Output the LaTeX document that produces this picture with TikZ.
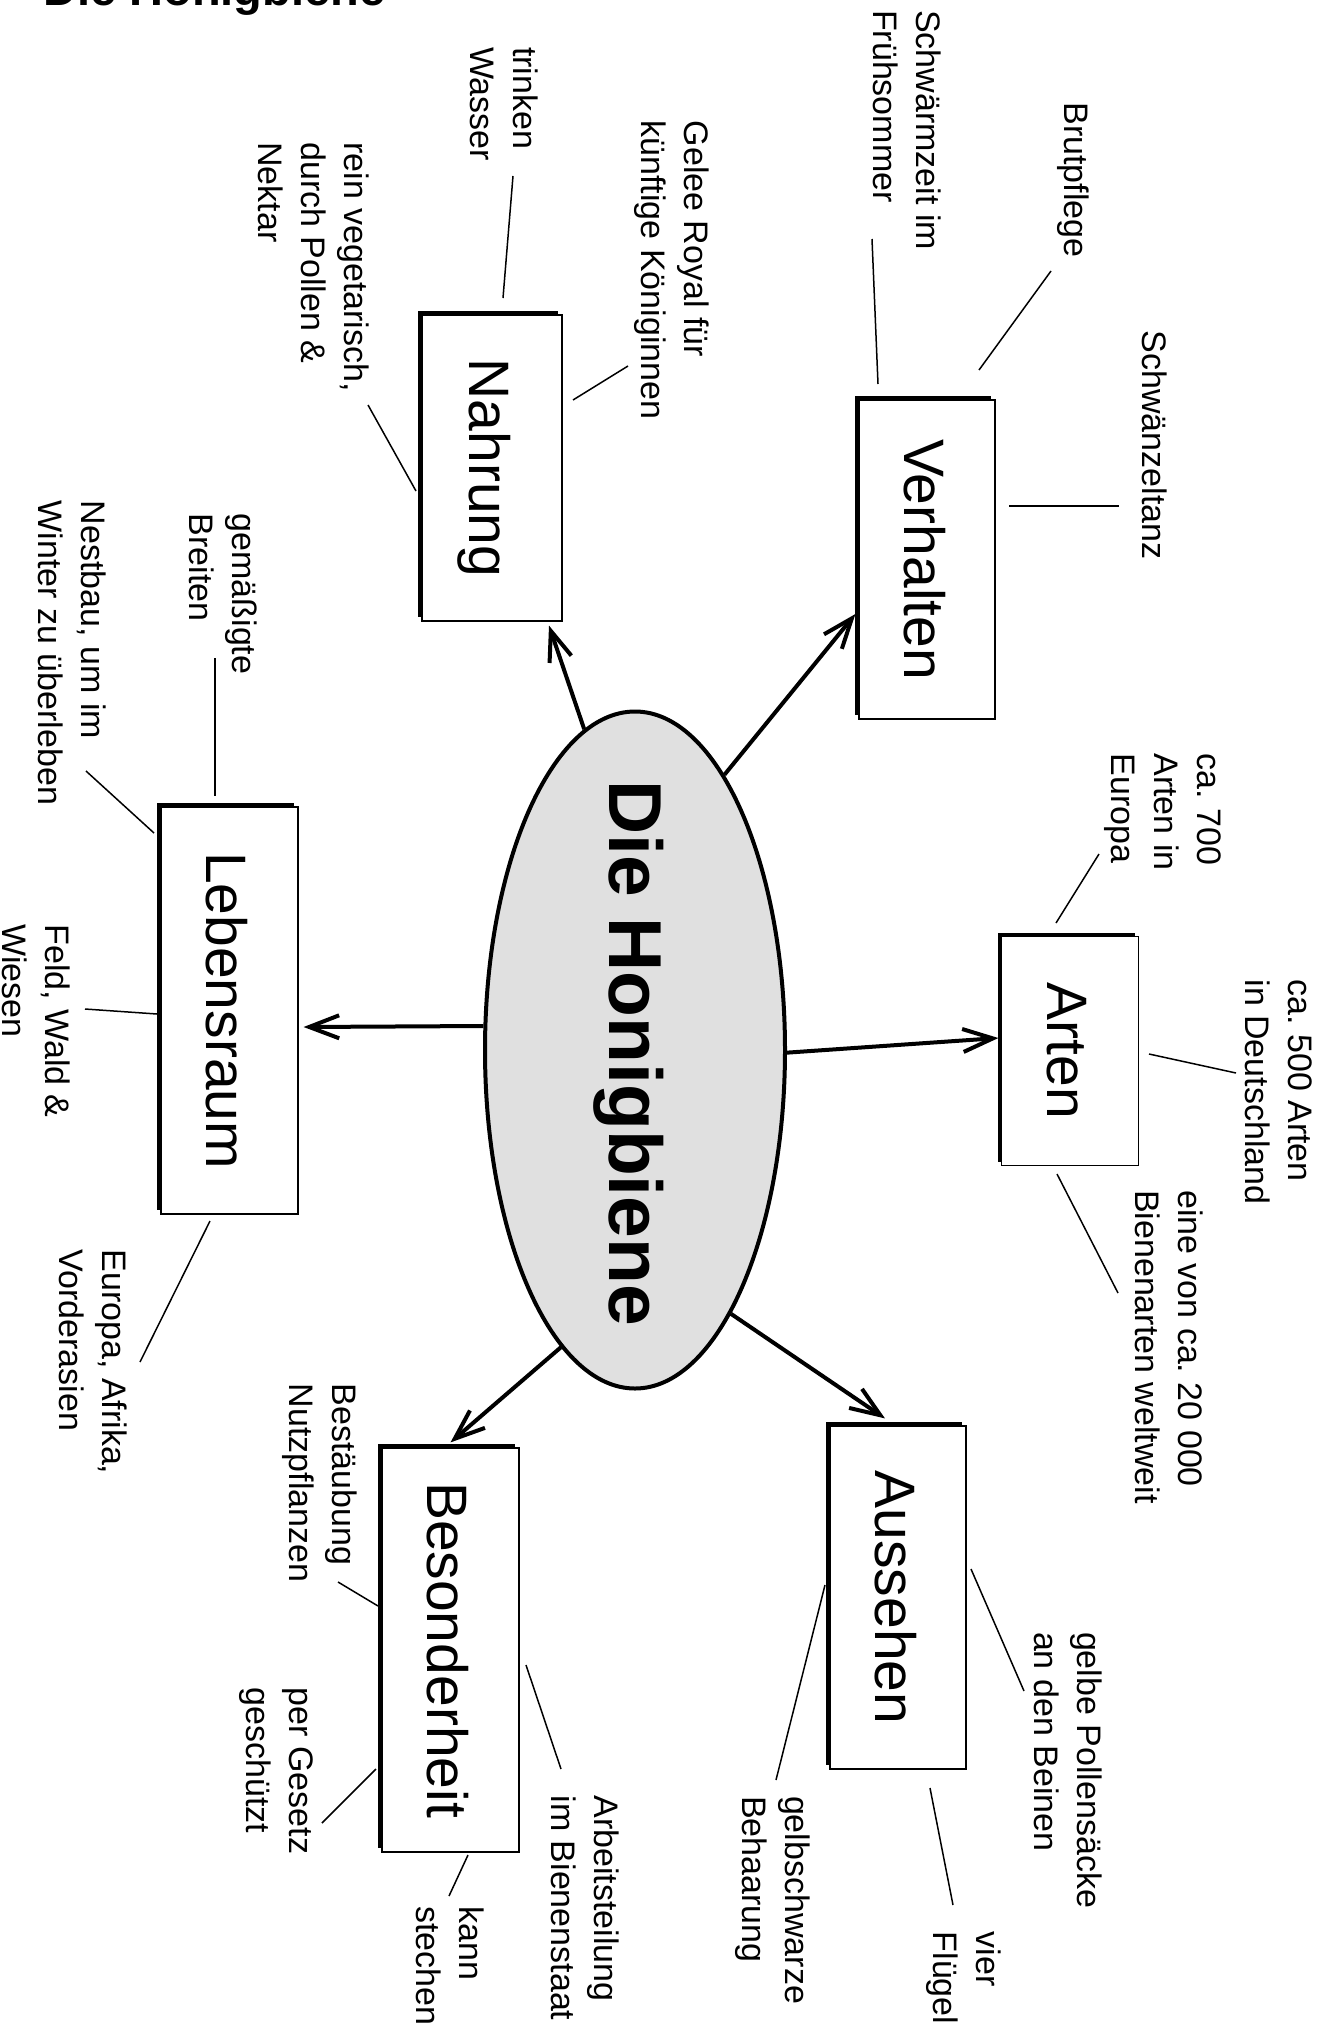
\documentclass[tikz,border=0pt]{standalone}
\usepackage{fontspec}
\setmainfont{Liberation Sans}
\usetikzlibrary{arrows.meta,shapes.geometric,shadows}
\definecolor{ellgray}{RGB}{224,224,224}
\begin{document}
\frenchspacing
\begin{tikzpicture}[x=1pt,y=-1pt,
  topic/.style={draw=black, line width=1.2pt, fill=white, inner sep=0pt,
     drop shadow={shadow xshift=-4pt, shadow yshift=4pt, fill=black, opacity=1}},
  topictext/.style={rotate=-90, anchor=base, inner sep=0pt, font=\fontsize{57}{60}\selectfont},
  lab/.style={rotate=-90, align=left, inner sep=0pt, font=\fontsize{34}{43}\selectfont},
  lk/.style={line width=1.5pt},
  arr/.style={line width=4pt, -{Straight Barb[length=30pt,width=23pt]}}]
\useasboundingbox (0,0) rectangle (1322,2031);
\clip (0,0) rectangle (1322,2031);

% title
\node[anchor=base west, inner sep=0pt, font=\bfseries\fontsize{47}{50}\selectfont] (title) at (43,6) {Die Honigbiene};

% centre
\node[ellipse, draw=black, line width=4pt, fill=ellgray, minimum width=300pt, minimum height=677pt, inner sep=0pt] (bee) at (635,1050) {};
\node[rotate=-90, anchor=base, inner sep=0pt, font=\bfseries\fontsize{75}{80}\selectfont] (beeT) at (609,1053) {Die Honigbiene};

% topic boxes
\node[topic, minimum width=140pt, minimum height=306pt] (nahr) at (492,468) {};
\node[topictext] (nahrT) at ([xshift=-23pt]nahr.center) {Nahrung};
\node[topic, minimum width=136pt, minimum height=319pt] (verh) at (927,559.5) {};
\node[topictext] (verhT) at ([xshift=-23pt]verh.center) {Verhalten};
\node[topic, minimum width=137pt, minimum height=407pt] (leb) at (229.5,1010.5) {};
\node[topictext] (lebT) at ([xshift=-23pt]leb.center) {Lebensraum};
\node[topic, minimum width=137pt, minimum height=229pt] (arten) at (1070,1051) {};
\node[topictext] (artenT) at ([xshift=-23pt]arten.center) {Arten};
\node[topic, minimum width=136pt, minimum height=343pt] (auss) at (898,1597.5) {};
\node[topictext] (aussT) at ([xshift=-23pt]auss.center) {Aussehen};
\node[topic, minimum width=137pt, minimum height=404pt] (bes) at (450.5,1650) {};
\node[topictext] (besT) at ([xshift=-23pt]bes.center) {Besonderheit};

% arrows
\draw[arr] (bee.171.5) -- ([shift={(5,16.5)}]leb.east);
\draw[arr] (bee.72.7) -- ([shift={(-3,54.5)}]verh.west);
\draw[arr] (bee.99.6) -- ([shift={(57,4)}]nahr.south);
\draw[arr] (bee.-1.5) -- ([shift={(-2.5,-13)}]arten.west);
\draw[arr] (bee.-70.5) -- ([shift={(-13,-7)}]auss.north);
\draw[arr] (bee.256.8) -- ([shift={(0,-5)}]bes.north);

% labels
\node[lab] (n1) at (504,104) {trinken\\Wasser};
\node[lab] (n2) at (314,267) {rein vegetarisch,\\durch Pollen \&\\Nektar};
\node[lab] (n3) at (672,270) {Gelee Royal für\\künftige Königinnen};
\node[lab] (v1) at (907,130) {Schwärmzeit im\\Frühsommer};
\node[lab] (v2) at (1073,180) {Brutpflege};
\node[lab] (v3) at (1155,445) {Schwänzeltanz};
\node[lab] (b1) at (223,594) {gemäßigte\\Breiten};
\node[lab] (b2) at (72,653) {Nestbau, um im\\Winter zu überleben};
\node[lab] (b3) at (36,1021) {Feld, Wald \&\\Wiesen};
\node[lab] (b4) at (93,1362) {Europa, Afrika,\\Vorderasien};
\node[lab] (a1) at (1163,812) {ca. 700\\Arten in\\Europa};
\node[lab] (a2) at (1279,1092) {ca. 500 Arten\\in Deutschland};
\node[lab] (a3) at (1169,1347) {eine von ca. 20~000\\Bienenarten weltweit};
\node[lab] (s1) at (320,1483) {Bestäubung\\Nutzpflanzen};
\node[lab] (s2) at (276,1771) {per Gesetz\\geschützt};
\node[lab] (s3) at (585,1908) {Arbeitsteilung\\im Bienenstaat};
\node[lab] (s4) at (450,1966) {kann\\stechen};
\node[lab] (u1) at (1068,1770) {gelbe Pollensäcke\\an den Beinen};
\node[lab] (u2) at (964,1978) {vier\\Flügel};
\node[lab] (u3) at (773,1900) {gelbschwarze\\Behaarung};

% connector lines
\draw[lk] (513,176) -- (503,298);
\draw[lk] (368,405) -- (416,491);
\draw[lk] (573,400) -- (628,366);
\draw[lk] (872,239) -- (878,384);
\draw[lk] (1051,271) -- (979,370);
\draw[lk] (1009,506) -- (1119,506);
\draw[lk] (215,658) -- (215,796);
\draw[lk] (86,771) -- (154,833);
\draw[lk] (85,1009) -- (157,1014);
\draw[lk] (210,1221) -- (140,1362);
\draw[lk] (1099,854) -- (1056,923);
\draw[lk] (1149,1054) -- (1236,1073);
\draw[lk] (1057,1174) -- (1118,1293);
\draw[lk] (971,1569) -- (1024,1691);
\draw[lk] (930,1788) -- (953,1905);
\draw[lk] (825,1585) -- (776,1780);
\draw[lk] (338,1582) -- (378,1606);
\draw[lk] (376,1769) -- (322,1823);
\draw[lk] (526,1665) -- (561,1769);
\draw[lk] (468,1855) -- (449,1896);
\end{tikzpicture}
\end{document}
